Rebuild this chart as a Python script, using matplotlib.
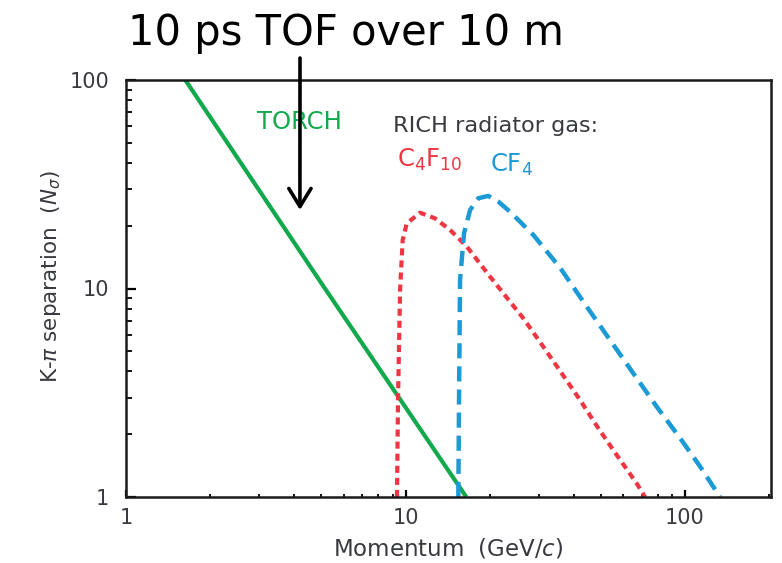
import matplotlib
matplotlib.use("Agg")
import matplotlib.pyplot as plt
from matplotlib.ticker import LogLocator, NullFormatter, FixedLocator

plt.rcParams['font.family'] = ['DejaVu Sans']
plt.rcParams['mathtext.fontset'] = 'dejavusans'

# ---- data ----
torch_p = [1.63, 5.0, 16.5]
torch_n = [100.0, 10.6, 1.0]

c4f10_p = [9.32, 9.40, 9.56, 9.77, 10.1, 11.27, 12.75, 14.43, 16.56, 20.06,
           26.4, 31.1, 36.2, 42.1, 48.97, 56.96, 67.2, 71.9]
c4f10_n = [1.0, 2.92, 9.84, 17.1, 20.5, 23.1, 21.7, 19.1, 15.9, 11.4,
           7.19, 5.26, 3.92, 2.92, 2.135, 1.59, 1.16, 1.0]

cf4_p = [15.45, 15.54, 15.67, 16.19, 17.02, 18.22, 19.78, 21.48, 23.65, 28.66,
         35.72, 44.5, 53.9, 65.3, 79.2, 95.9, 113.2, 133.4]
cf4_n = [1.0, 3.02, 10.99, 18.4, 23.8, 27.1, 27.8, 26.1, 23.35, 18.06,
         12.58, 8.18, 5.66, 3.92, 2.71, 1.92, 1.40, 1.0]

x_ticks = [1, 10, 100]
x_ticklabels = ['1', '10', '100']
y_ticks = [1, 10, 100]
y_ticklabels = ['1', '10', '100']

GREEN = '#12a84c'
RED = '#ee3542'
BLUE = '#1b9ad6'
GRAY = '#383a3f'

W, H = 782, 563
fig = plt.figure(figsize=(W / 100, H / 100), dpi=100)
ax = fig.add_axes([126 / W, (H - 497) / H, (771 - 126) / W, (497 - 80) / H])

ax.plot(torch_p, torch_n, color=GREEN, lw=3.0, solid_capstyle='butt')
ax.plot(c4f10_p, c4f10_n, color=RED, lw=3.0, linestyle=(0, (1.7, 1.2)))
ax.plot(cf4_p, cf4_n, color=BLUE, lw=3.2, linestyle=(0, (3.4, 1.8)))

ax.set_xscale('log')
ax.set_yscale('log')
ax.set_xlim(1, 203)
ax.set_ylim(1, 100)

ax.xaxis.set_major_locator(FixedLocator(x_ticks))
ax.set_xticklabels(x_ticklabels)
ax.yaxis.set_major_locator(FixedLocator(y_ticks))
ax.set_yticklabels(y_ticklabels)
ax.xaxis.set_minor_locator(LogLocator(base=10, subs=range(2, 10)))
ax.yaxis.set_minor_locator(LogLocator(base=10, subs=range(2, 10)))
ax.xaxis.set_minor_formatter(NullFormatter())
ax.yaxis.set_minor_formatter(NullFormatter())

for s in ax.spines.values():
    s.set_linewidth(1.8)
    s.set_color('#1a1a1a')

ax.tick_params(axis='x', which='major', direction='in', length=5, width=1.6,
               pad=8, labelsize=15, labelcolor=GRAY, top=False)
ax.tick_params(axis='x', which='minor', direction='in', length=2, width=1.3, top=False)
ax.tick_params(axis='y', which='major', direction='in', length=7, width=1.6,
               pad=12, labelsize=15, labelcolor=GRAY, right=False)
ax.tick_params(axis='y', which='minor', direction='in', length=4.5, width=1.3, right=False)

ax.set_xlabel(r'Momentum  (GeV/$c$)', fontsize=16.5, color=GRAY)
ax.xaxis.set_label_coords(0.5, -0.094)
ax.set_ylabel(r'K-$\pi$ separation  ($N_\sigma$)', fontsize=15.5, color=GRAY)
ax.yaxis.set_label_coords(-0.097, 0.528)

ax.text(4.19, 62.9, 'TORCH', color=GREEN, fontsize=17.5, ha='center', va='center')
ax.text(9.02, 60.2, 'RICH radiator gas:', color=GRAY, fontsize=16.1, ha='left', va='center')
ax.text(9.3, 41.3, r'C$_4$F$_{10}$', color=RED, fontsize=17.5, ha='left', va='center')
ax.text(20.1, 39.1, r'CF$_4$', color=BLUE, fontsize=17.5, ha='left', va='center')

fig.text(128 / W, (H - 45) / H, '10 ps TOF over 10 m', fontsize=30, family='DejaVu Sans',
         color='black', ha='left', va='baseline')

ax.annotate('', xy=(4.19, 23.8), xycoords='data',
            xytext=(300 / W, (H - 58) / H), textcoords='figure fraction',
            arrowprops=dict(arrowstyle='->,head_length=1.3,head_width=0.8',
                            lw=2.6, color='black', mutation_scale=10,
                            shrinkA=0, shrinkB=0),
            annotation_clip=False)

fig.savefig('out.png', dpi=100)
